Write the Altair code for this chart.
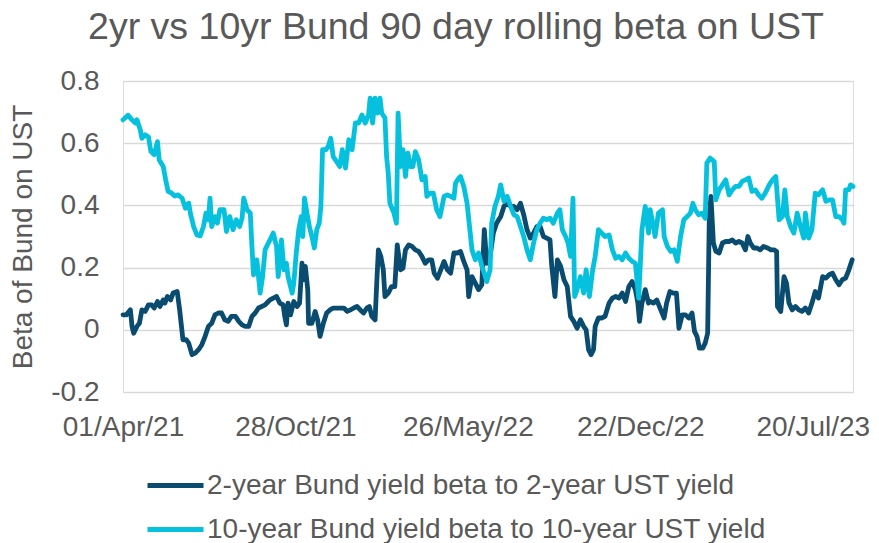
import altair as alt
import pandas as pd

START = "2021-04-01"

# days since START, and beta values
days_2y = [0, 4, 9, 11, 13, 17, 20, 23, 27, 31, 35, 38, 42, 45, 49, 51, 54, 58, 61, 66, 69, 73, 77, 80, 84, 88, 92, 96, 100,
           104, 108, 112, 116, 120, 124, 128, 132, 137, 141, 145, 149, 153, 157, 161, 165, 169, 173, 177,
           179, 183, 187, 191, 195, 197, 199, 201, 204, 208, 212, 215, 218, 220, 222, 225, 226, 230, 234, 237, 240, 244,
           248, 252, 256, 260, 264, 269, 273, 277, 281, 285, 289, 293, 297, 300, 303, 307, 309, 311, 314, 317, 319, 323,
           327, 331, 334, 338, 341, 344, 348, 352, 356, 360, 364, 368, 372, 376, 379, 383, 387, 391, 395, 399, 403, 407,
           411, 415, 419, 421, 425, 429, 433, 437, 440, 443, 447, 451, 455, 460, 464, 468, 472, 476, 480, 484, 488, 492,
           496, 500, 504, 508, 512, 516, 520, 522, 526, 529, 533, 537, 541, 545, 549, 553, 557, 561, 564, 567, 570, 573,
           575, 579, 583, 587, 592, 596, 600, 604, 608, 612, 616, 620, 624, 627, 629, 632, 636, 640,
           642, 646, 650, 654, 659, 662, 666, 670, 674, 677, 681, 685, 689, 693, 696, 699, 702, 706, 709, 712, 714, 716,
           719, 722, 726, 730, 734, 738, 742, 746, 750, 754, 758, 761, 764, 768, 772, 776, 780, 785, 789, 793, 796, 797,
           801, 805, 808, 811, 815, 819, 823, 827, 831, 835, 839, 843, 847, 852, 856, 860, 864, 868, 872, 876, 880, 884, 888]
beta_2y = [0.048, 0.048, 0.064, 0.011, -0.011, 0.011, 0.021, 0.064, 0.059, 0.08, 0.08, 0.07, 0.091, 0.075, 0.096, 0.086,
           0.107, 0.096, 0.118, 0.123, 0.064, -0.032, -0.032, -0.043, -0.08, -0.075, -0.064, -0.048, -0.021,
           0.011, 0.021, 0.048, 0.054, 0.054, 0.032, 0.027, 0.043, 0.043, 0.027, 0.016, 0.011, 0.011, 0.043, 0.054, 0.07,
           0.075, 0.08, 0.091,
           0.096, 0.102, 0.107, 0.086, 0.08, 0.043, 0.016, 0.086, 0.048, 0.091, 0.075, 0.086, 0.214, 0.161, 0.204, 0.129,
           0.021, 0.021, 0.059, 0.032, -0.021, 0.021,
           0.054, 0.064, 0.07, 0.07, 0.07, 0.07, 0.059, 0.064, 0.07, 0.075, 0.064, 0.054, 0.07, 0.075, 0.043, 0.032, 0.15,
           0.257, 0.236, 0.193, 0.107, 0.118,
           0.139, 0.139, 0.273, 0.193, 0.198, 0.257, 0.273, 0.268, 0.257, 0.252, 0.236, 0.214, 0.225, 0.225, 0.182, 0.166,
           0.193, 0.22, 0.193, 0.182, 0.247, 0.247,
           0.252, 0.22, 0.193, 0.107, 0.171, 0.15, 0.129, 0.145, 0.322, 0.214, 0.236, 0.311, 0.343, 0.364, 0.397, 0.407,
           0.397, 0.397, 0.386, 0.407, 0.37, 0.322,
           0.295, 0.311, 0.332, 0.332, 0.30, 0.295, 0.289, 0.209, 0.107, 0.225, 0.204, 0.161, 0.139, 0.043, 0.027, 0.005,
           0.032, 0.011, 0.0, -0.064, -0.08, -0.064,
           0.011, 0.038, 0.038, 0.043, 0.086, 0.102, 0.107, 0.102, 0.118, 0.091, 0.139, 0.155, 0.129, 0.086, 0.027, 0.086,
           0.129, 0.086,
           0.091, 0.086, 0.096, 0.07, 0.038, 0.086, 0.123, 0.118, 0.118, 0.005, 0.048, 0.048, 0.038, 0.054, -0.005, -0.021,
           -0.059, -0.059, -0.043, -0.011, 0.364, 0.429,
           0.279, 0.252, 0.247, 0.279, 0.284, 0.284, 0.289, 0.279, 0.284, 0.279, 0.257, 0.30, 0.279, 0.263, 0.263, 0.257,
           0.268, 0.263, 0.257, 0.257, 0.252, 0.075,
           0.059, 0.171, 0.15, 0.086, 0.064, 0.075, 0.064, 0.059, 0.07, 0.054, 0.086, 0.123, 0.102, 0.171, 0.166, 0.177,
           0.182, 0.161, 0.145, 0.161, 0.166, 0.193, 0.225]

days_10y = [0, 6, 11, 15, 17, 21, 23, 27, 31, 34, 38, 42, 44, 49, 52, 55, 59, 63, 67, 72, 76, 78, 80, 82, 86, 90, 94, 98,
            101, 104, 106, 108, 112, 115, 118, 123, 126, 130, 134, 138, 142, 145, 147, 151, 155, 157, 159, 163, 167, 170,
            173, 177,
            179, 183, 187, 189, 193, 196, 199, 201, 206, 208, 211, 214, 217, 219, 221, 224, 227, 230, 233, 236, 239, 241,
            243, 247, 250, 253, 256, 260, 264, 267, 271, 275, 279, 283, 287, 291, 295, 299, 301, 304, 307, 310, 313, 315,
            319, 321, 323, 325, 330, 333, 335, 338, 341, 344, 347, 350, 353, 356, 360, 364, 368, 370, 374, 378, 382, 386,
            391, 395, 399, 403, 405, 409,
            411, 415, 419, 422, 425, 429, 433, 437, 440, 443, 447, 449, 453, 457, 460, 464, 468, 472, 476, 480, 484, 488,
            492, 496, 500, 504, 508, 512, 516, 520, 524, 529, 532, 535, 539, 542, 545, 548, 550, 553, 557, 561, 564, 568,
            572, 575, 579, 583, 587, 592, 596, 600, 604, 608, 612, 616, 620, 624, 628, 632, 636, 640,
            642, 646, 648, 652, 657, 659, 663, 667, 671, 675, 679, 683, 687, 691, 694, 697, 701, 705, 709, 711, 715, 720,
            722, 726, 730, 734, 738, 742, 746, 750, 754, 758, 762, 766, 770, 774, 778, 782, 787, 791, 795, 799, 803, 806,
            809, 813, 817, 821, 825, 829, 831, 835, 839, 843, 847, 852, 856, 860, 864, 868, 872, 876, 878, 880, 884, 886,
            889]
beta_10y = [0.675, 0.69, 0.675, 0.665, 0.675, 0.643, 0.616, 0.627, 0.62, 0.573, 0.563, 0.605, 0.547, 0.525, 0.482, 0.445,
            0.44, 0.43, 0.434, 0.423, 0.391, 0.402, 0.407, 0.375, 0.332, 0.305, 0.302, 0.332,
            0.375, 0.354, 0.423, 0.332, 0.364, 0.343, 0.386, 0.386, 0.316, 0.364, 0.322, 0.354, 0.332, 0.359, 0.423, 0.386,
            0.375, 0.268, 0.177, 0.225, 0.118, 0.171, 0.257, 0.279,
            0.289, 0.311, 0.268, 0.171, 0.289, 0.193, 0.214, 0.171, 0.118, 0.15, 0.247, 0.322, 0.364, 0.30, 0.423, 0.375,
            0.332, 0.30, 0.263, 0.322, 0.343, 0.397,
            0.579, 0.579, 0.59, 0.616, 0.557, 0.541, 0.525, 0.579, 0.52, 0.611, 0.579, 0.665, 0.665, 0.691, 0.665, 0.691,
            0.745, 0.665, 0.745, 0.697, 0.745, 0.697,
            0.681, 0.557, 0.504, 0.407, 0.375, 0.343, 0.697, 0.525, 0.579, 0.493, 0.568, 0.525, 0.525, 0.573, 0.547, 0.482,
            0.493, 0.429, 0.439, 0.439, 0.386, 0.364,
            0.429, 0.434, 0.429, 0.423, 0.472, 0.488,
            0.493, 0.461, 0.407, 0.332, 0.257, 0.225, 0.247, 0.204, 0.182, 0.155, 0.193, 0.343, 0.397, 0.429, 0.466, 0.413,
            0.429, 0.397, 0.37, 0.364, 0.332, 0.30,
            0.257, 0.225, 0.279, 0.322, 0.343, 0.359, 0.354, 0.359, 0.343, 0.375, 0.386, 0.322, 0.30, 0.279, 0.236, 0.423,
            0.107, 0.129, 0.171, 0.118, 0.193, 0.107,
            0.193, 0.236, 0.322, 0.311, 0.30, 0.305, 0.257, 0.23, 0.236, 0.225, 0.247, 0.23, 0.22, 0.214, 0.102, 0.322,
            0.397, 0.311,
            0.386, 0.332, 0.30, 0.375, 0.386, 0.30, 0.268, 0.252, 0.257, 0.22, 0.30, 0.354, 0.364, 0.375, 0.407, 0.386,
            0.37, 0.375, 0.359, 0.536, 0.552, 0.541,
            0.418, 0.45, 0.466, 0.482, 0.434, 0.45, 0.461, 0.461, 0.477, 0.482, 0.488, 0.445, 0.45, 0.434, 0.423, 0.439,
            0.466, 0.482, 0.493, 0.354, 0.364, 0.45,
            0.364, 0.332, 0.311, 0.375, 0.332, 0.295, 0.375, 0.295, 0.322, 0.439, 0.434, 0.45, 0.413, 0.418, 0.418, 0.364,
            0.364, 0.354, 0.343, 0.45, 0.45, 0.466,
            0.461]

series_names = ["2-year Bund yield beta to 2-year UST yield",
                "10-year Bund yield beta to 10-year UST yield"]
series_colors = ["#0A4C70", "#06C1DE"]
x_tick_dates = [(2021, 4, 1), (2021, 10, 28), (2022, 5, 26), (2022, 12, 22), (2023, 7, 20)]
x_domain_dates = [(2021, 4, 1), (2023, 9, 7)]
y_ticks = [-0.2, 0, 0.2, 0.4, 0.6, 0.8]

TEXT = "#595959"
FONT = "Liberation Sans"

start = pd.Timestamp(START)


def frame(days, vals, name):
    return pd.DataFrame({
        "date": [(start + pd.Timedelta(days=d)).strftime("%Y-%m-%d") for d in days],
        "beta": vals,
        "series": name,
    })


df = pd.concat([frame(days_2y, beta_2y, series_names[0]),
                frame(days_10y, beta_10y, series_names[1])], ignore_index=True)


def dt(t):
    return alt.DateTime(year=t[0], month=t[1], date=t[2], utc=True)


x_enc = alt.X(
    "date:T",
    scale=alt.Scale(type="utc", domain=[dt(t) for t in x_domain_dates]),
    axis=alt.Axis(values=[dt(t) for t in x_tick_dates],
                  labelExpr="utcFormat(datum.value, '%d/%b/%y')",
                  title=None, grid=False, domain=False, ticks=False, labelFontSize=28,
                  labelColor=TEXT, labelFont=FONT, labelPadding=21, labelFlush=False,
                  labelOverlap=False),
)
y_enc = alt.Y(
    "beta:Q",
    scale=alt.Scale(domain=[-0.2, 0.8], nice=False, zero=False),
    axis=alt.Axis(values=y_ticks, title="Beta of Bund on UST", titleFontSize=28, titleFont=FONT,
                  titleColor=TEXT, titleFontWeight="normal", titlePadding=13,
                  labelExpr="datum.value == 0 ? '0' : (datum.value < 0 ? '-' + format(-datum.value, '.1f') : format(datum.value, '.1f'))",
                  labelFontSize=28, labelFont=FONT, labelColor=TEXT, labelPadding=24,
                  domain=False, ticks=False, gridColor="#D9D9D9", gridWidth=1.5),
)
color_enc = alt.Color(
    "series:N",
    scale=alt.Scale(domain=series_names, range=series_colors),
    legend=alt.Legend(title=None, orient="none", legendX=30, legendY=382, direction="vertical",
                      symbolType="M-1.4,0H1.4", symbolSize=1600, symbolStrokeWidth=5,
                      symbolFillColor="transparent", labelFontSize=28,
                      labelFont=FONT, labelColor=TEXT, rowPadding=7, labelOffset=9, padding=0,
                      labelLimit=800),
)

base = alt.Chart(df).mark_line(strokeWidth=4.8, strokeJoin="round", strokeCap="round").encode(
    x=x_enc, y=y_enc, color=color_enc
)

line2 = base.transform_filter(alt.datum.series == series_names[0])
line10 = base.transform_filter(alt.datum.series == series_names[1])

chart = alt.layer(line2, line10).properties(
    width=730,
    height=311,
    autosize=alt.AutoSizeParams(type="none"),
    padding={"left": 115, "top": 73, "right": 18, "bottom": 151},
    title=alt.Title("2yr vs 10yr Bund 90 day rolling beta on UST", fontSize=37.5, font=FONT,
                    color=TEXT, fontWeight="normal", anchor="middle", frame="group", dx=-32,
                    offset=21),
).configure_view(stroke=None).configure(background="white")

chart.save("out.html", embed_options={"renderer": "svg", "actions": False})
